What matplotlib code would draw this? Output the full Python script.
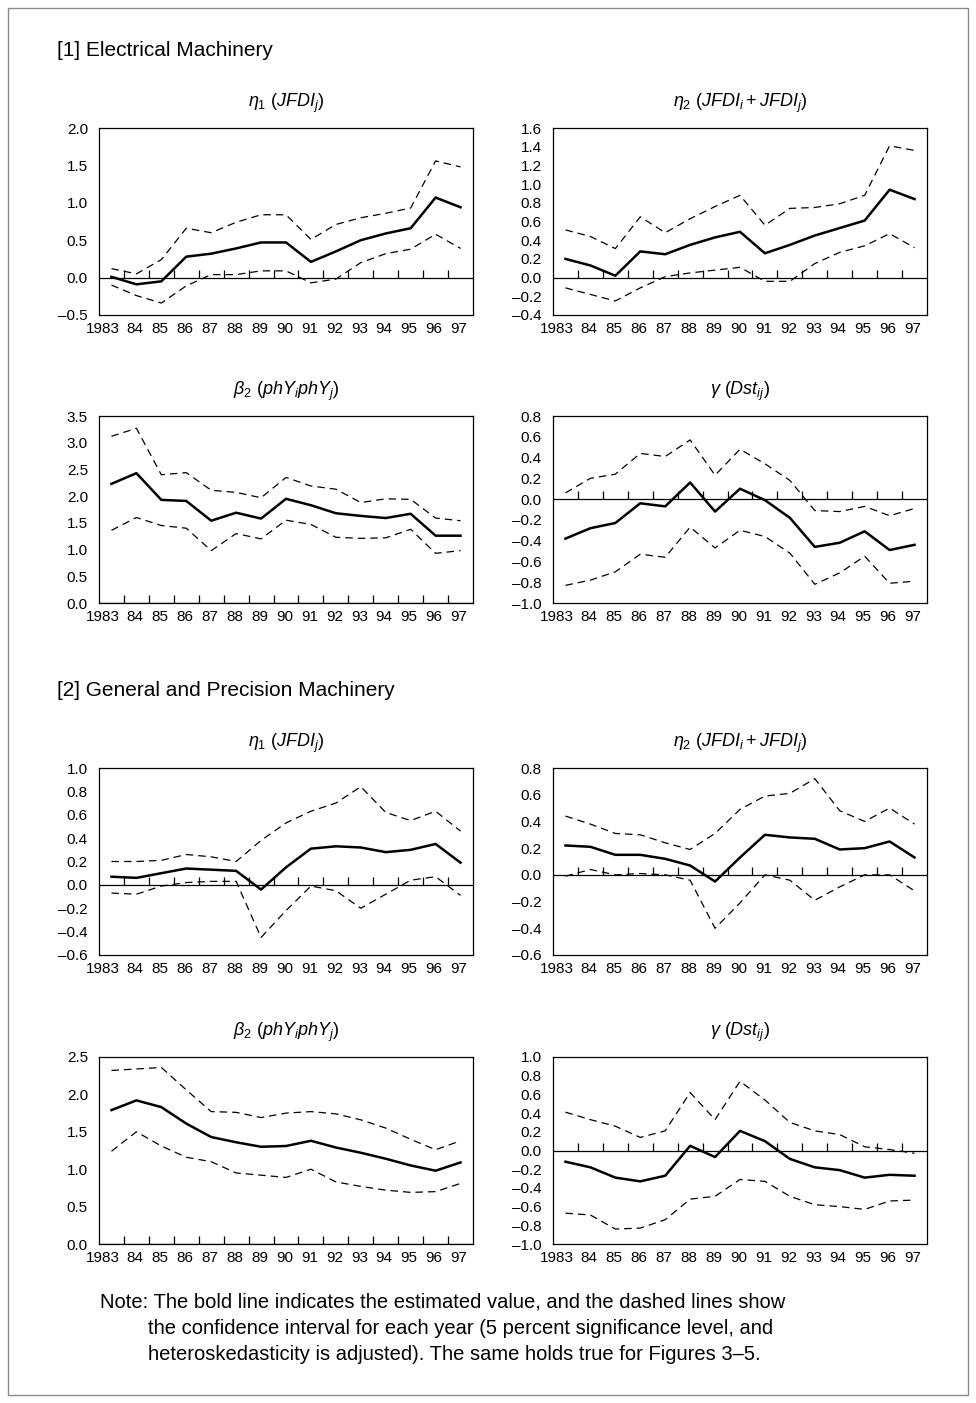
import numpy as np
import matplotlib
matplotlib.use("Agg")
import matplotlib.pyplot as plt
from matplotlib.patches import Rectangle
from matplotlib.transforms import ScaledTranslation

plt.rcParams['font.family'] = ['Liberation Sans', 'DejaVu Sans']
plt.rcParams['mathtext.fontset'] = 'custom'
plt.rcParams['mathtext.rm'] = 'Liberation Sans'
plt.rcParams['mathtext.it'] = 'Liberation Sans:italic'

years = ["1983", "84", "85", "86", "87", "88", "89", "90", "91", "92", "93", "94", "95", "96", "97"]

# [1] Electrical Machinery
em_eta1_est = [0.01, -0.09, -0.05, 0.28, 0.32, 0.39, 0.47, 0.47, 0.21, 0.35, 0.50, 0.59, 0.66, 1.07, 0.94]
em_eta1_up = [0.12, 0.05, 0.24, 0.66, 0.60, 0.74, 0.84, 0.84, 0.51, 0.71, 0.80, 0.86, 0.93, 1.56, 1.48]
em_eta1_lo = [-0.10, -0.24, -0.34, -0.11, 0.04, 0.04, 0.09, 0.09, -0.07, -0.02, 0.20, 0.32, 0.38, 0.58, 0.39]

em_eta2_est = [0.20, 0.13, 0.02, 0.28, 0.25, 0.35, 0.43, 0.49, 0.26, 0.35, 0.45, 0.53, 0.61, 0.94, 0.84]
em_eta2_up = [0.51, 0.44, 0.31, 0.65, 0.48, 0.63, 0.76, 0.88, 0.56, 0.74, 0.75, 0.79, 0.88, 1.41, 1.36]
em_eta2_lo = [-0.11, -0.18, -0.25, -0.11, 0.01, 0.05, 0.08, 0.11, -0.04, -0.04, 0.15, 0.27, 0.34, 0.47, 0.32]

em_beta2_est = [2.23, 2.43, 1.93, 1.91, 1.54, 1.69, 1.58, 1.95, 1.83, 1.68, 1.63, 1.59, 1.67, 1.26, 1.26]
em_beta2_up = [3.12, 3.27, 2.40, 2.44, 2.11, 2.07, 1.97, 2.35, 2.19, 2.13, 1.88, 1.95, 1.94, 1.59, 1.54]
em_beta2_lo = [1.36, 1.60, 1.45, 1.40, 0.98, 1.30, 1.20, 1.55, 1.47, 1.23, 1.21, 1.22, 1.38, 0.93, 0.98]

em_gamma_est = [-0.38, -0.28, -0.23, -0.04, -0.07, 0.16, -0.12, 0.10, -0.01, -0.18, -0.46, -0.42, -0.31, -0.49, -0.44]
em_gamma_up = [0.06, 0.20, 0.24, 0.44, 0.41, 0.57, 0.23, 0.48, 0.34, 0.18, -0.11, -0.12, -0.07, -0.16, -0.09]
em_gamma_lo = [-0.83, -0.78, -0.70, -0.53, -0.56, -0.27, -0.47, -0.30, -0.36, -0.52, -0.82, -0.71, -0.55, -0.81, -0.79]

# [2] General and Precision Machinery
gp_eta1_est = [0.07, 0.06, 0.10, 0.14, 0.13, 0.12, -0.04, 0.15, 0.31, 0.33, 0.32, 0.28, 0.30, 0.35, 0.19]
gp_eta1_up = [0.20, 0.20, 0.21, 0.26, 0.24, 0.20, 0.38, 0.53, 0.63, 0.70, 0.84, 0.62, 0.55, 0.63, 0.46]
gp_eta1_lo = [-0.07, -0.08, -0.01, 0.02, 0.03, 0.03, -0.45, -0.22, -0.01, -0.05, -0.20, -0.08, 0.04, 0.07, -0.09]

gp_eta2_est = [0.22, 0.21, 0.15, 0.15, 0.12, 0.07, -0.05, 0.13, 0.30, 0.28, 0.27, 0.19, 0.20, 0.25, 0.13]
gp_eta2_up = [0.44, 0.38, 0.31, 0.30, 0.24, 0.19, 0.31, 0.49, 0.59, 0.61, 0.72, 0.48, 0.40, 0.50, 0.38]
gp_eta2_lo = [-0.01, 0.04, 0.00, 0.01, 0.00, -0.04, -0.40, -0.21, 0.00, -0.04, -0.19, -0.09, 0.00, 0.00, -0.12]

gp_beta2_est = [1.79, 1.92, 1.83, 1.61, 1.43, 1.36, 1.30, 1.31, 1.38, 1.29, 1.22, 1.14, 1.05, 0.98, 1.09]
gp_beta2_up = [2.32, 2.34, 2.36, 2.06, 1.77, 1.76, 1.69, 1.75, 1.77, 1.74, 1.66, 1.55, 1.40, 1.26, 1.38]
gp_beta2_lo = [1.24, 1.50, 1.31, 1.16, 1.10, 0.95, 0.92, 0.89, 1.00, 0.83, 0.77, 0.72, 0.69, 0.70, 0.81]

gp_gamma_est = [-0.12, -0.18, -0.29, -0.33, -0.27, 0.05, -0.07, 0.21, 0.10, -0.09, -0.18, -0.21, -0.29, -0.26, -0.27]
gp_gamma_up = [0.41, 0.33, 0.26, 0.14, 0.21, 0.62, 0.33, 0.74, 0.54, 0.30, 0.21, 0.17, 0.04, 0.01, -0.03]
gp_gamma_lo = [-0.67, -0.69, -0.84, -0.83, -0.74, -0.52, -0.49, -0.31, -0.33, -0.49, -0.58, -0.60, -0.63, -0.54, -0.53]

t_eta1 = r'$\eta_1$ ($\mathit{JFDI_j}$)'
t_eta2 = r'$\eta_2$ ($\mathit{JFDI_i + JFDI_j}$)'
t_beta2 = r'$\beta_2$ ($\mathit{phY_i phY_j}$)'
t_gamma = r'$\gamma$ ($\mathit{Dst_{ij}}$)'

W, H = 976, 1403
fig = plt.figure(figsize=(W / 100, H / 100), dpi=100)

fig.patches.append(Rectangle((8 / W, 1 - 1395 / H), 960 / W, 1387 / H, transform=fig.transFigure,
                             fill=False, edgecolor='#8a8a8a', lw=1.0))


def panel(left, top, title, est, up, lo, ylim, step):
    ax = fig.add_axes([left / W, 1 - (top + 187) / H, 374 / W, 187 / H])
    x = np.arange(len(years))
    ax.plot(x, up, color='black', lw=0.9, ls=(0, (6, 4)))
    ax.plot(x, lo, color='black', lw=0.9, ls=(0, (6, 4)))
    ax.plot(x, est, color='black', lw=1.8)
    ax.axhline(0, color='black', lw=0.9)
    # small upward ticks between years on the zero line
    ax.plot(x[:-1] + 0.5, np.zeros(len(x) - 1), ls='none', marker=2, ms=6, mew=0.9, color='black')
    ax.set_xlim(-0.5, len(years) - 0.5)
    ax.set_ylim(*ylim)
    ticks = np.arange(ylim[0], ylim[1] + step / 2, step)
    ax.set_yticks(ticks)
    ax.set_yticklabels(["{:.1f}".format(t if abs(t) > 1e-9 else 0.0).replace('-', '\u2013') for t in ticks])
    ax.set_xticks(x)
    ax.set_xticklabels(years)
    ax.tick_params(axis='x', length=0, pad=5, labelsize=11)
    ax.tick_params(axis='y', length=0, pad=8, labelsize=11)
    labs = ax.get_xticklabels()
    shift = ScaledTranslation(-1.5 / 100, 0, fig.dpi_scale_trans)
    for lab in labs:
        lab.set_transform(lab.get_transform() + shift)
    labs[0].set_horizontalalignment('right')
    labs[0].set_transform(labs[0].get_transform() + ScaledTranslation(9.5 / 100, 0, fig.dpi_scale_trans))
    for s in ax.spines.values():
        s.set_linewidth(0.9)
    ax.annotate(title, xy=(0.5, 1), xycoords='axes fraction', xytext=(0, 18),
                textcoords='offset points', ha='center', va='center', fontsize=13)
    return ax


L, R = 99, 553
panel(L, 128, t_eta1, em_eta1_est, em_eta1_up, em_eta1_lo, (-0.5, 2.0), 0.5)
panel(R, 128, t_eta2, em_eta2_est, em_eta2_up, em_eta2_lo, (-0.4, 1.6), 0.2)
panel(L, 416, t_beta2, em_beta2_est, em_beta2_up, em_beta2_lo, (0.0, 3.5), 0.5)
panel(R, 416, t_gamma, em_gamma_est, em_gamma_up, em_gamma_lo, (-1.0, 0.8), 0.2)

panel(L, 768, t_eta1, gp_eta1_est, gp_eta1_up, gp_eta1_lo, (-0.6, 1.0), 0.2)
panel(R, 768, t_eta2, gp_eta2_est, gp_eta2_up, gp_eta2_lo, (-0.6, 0.8), 0.2)
panel(L, 1057, t_beta2, gp_beta2_est, gp_beta2_up, gp_beta2_lo, (0.0, 2.5), 0.5)
panel(R, 1057, t_gamma, gp_gamma_est, gp_gamma_up, gp_gamma_lo, (-1.0, 1.0), 0.2)

fig.text(57 / W, 1 - 50 / H, "[1] Electrical Machinery", fontsize=15, va='center', ha='left')
fig.text(57 / W, 1 - 690 / H, "[2] General and Precision Machinery", fontsize=15, va='center', ha='left')

fig.text(100 / W, 1 - 1302 / H, "Note: The bold line indicates the estimated value, and the dashed lines show",
         fontsize=14.5, va='center', ha='left')
fig.text(148 / W, 1 - 1328 / H, "the confidence interval for each year (5 percent significance level, and",
         fontsize=14.5, va='center', ha='left')
fig.text(148 / W, 1 - 1354 / H, "heteroskedasticity is adjusted). The same holds true for Figures 3\u20135.",
         fontsize=14.5, va='center', ha='left')

fig.savefig("out.png", dpi=100, facecolor='white')
